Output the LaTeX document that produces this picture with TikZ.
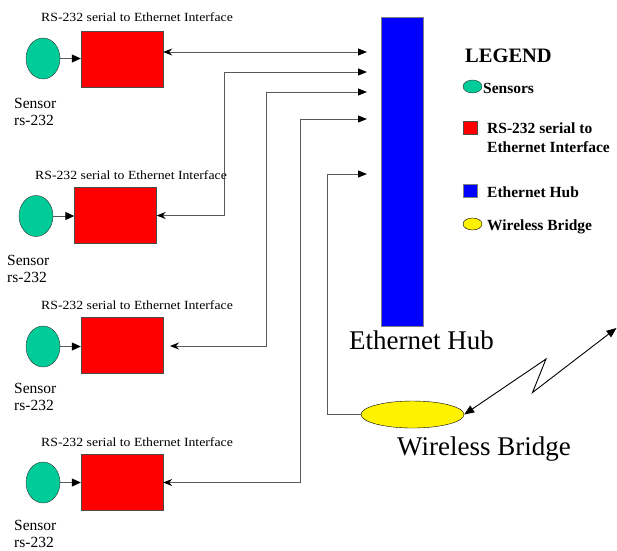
\documentclass[tikz,border=0pt]{standalone}
\usepackage{fontspec}
\setmainfont{Liberation Serif}
\usepackage{graphicx}
\usetikzlibrary{arrows.meta,shapes.geometric}
\definecolor{sensgreen}{HTML}{00CC99}
\begin{document}
\begin{tikzpicture}[x=1pt,y=-1pt,
  sensor/.style={ellipse,draw=black!80,fill=sensgreen,minimum width=34pt,minimum height=41pt,inner sep=0pt},
  ifbox/.style={rectangle,draw=black!70,fill=red,minimum width=82pt,minimum height=56pt,inner sep=0pt},
  hubbox/.style={rectangle,draw=black!50,fill=blue,minimum width=42pt,minimum height=309pt,inner sep=0pt},
  bridge/.style={ellipse,draw=black,fill=yellow,minimum width=103pt,minimum height=27pt,inner sep=0pt},
  link/.style={draw=black!65,line width=1pt},
  tohub/.style={-{Triangle[length=9pt,width=7pt,color=black]}},
  both/.style={{Stealth[length=9pt,width=7pt,inset=3pt,color=black]}-{Triangle[length=9pt,width=7pt,color=black]}},
  small/.style={inner sep=0pt,anchor=base west,font=\fontsize{12.5}{14}\selectfont},
  senslbl/.style={inner sep=0pt,anchor=base west,font=\fontsize{15.5}{18}\selectfont},
  big/.style={inner sep=0pt,anchor=base west,font=\fontsize{27}{32}\selectfont},
  leg/.style={inner sep=0pt,anchor=base west,font=\bfseries\fontsize{15.5}{18}\selectfont}
]
\useasboundingbox (0,0) rectangle (617,550);
% groups
\node[sensor] (s1) at (43,58.5) {};
\node[ifbox] (b1) at (122,59) {};
\node[sensor] (s2) at (36,216) {};
\node[ifbox] (b2) at (115.5,215.5) {};
\node[sensor] (s3) at (43,346.5) {};
\node[ifbox] (b3) at (122,345) {};
\node[sensor] (s4) at (43,482.5) {};
\node[ifbox] (b4) at (122,482.5) {};
\foreach \i in {1,...,4}{
  \draw[link,-{Triangle[length=9pt,width=8pt,color=black]}] (s\i.east) -- (s\i.east -| b\i.west);
}
% labels
\node[small] (t1) at (41,21) {\scalebox{1.1}[1]{RS-232 serial to Ethernet Interface}};
\node[small] (t2) at (35,179) {\scalebox{1.1}[1]{RS-232 serial to Ethernet Interface}};
\node[small] (t3) at (41,309) {\scalebox{1.1}[1]{RS-232 serial to Ethernet Interface}};
\node[small] (t4) at (41,446) {\scalebox{1.1}[1]{RS-232 serial to Ethernet Interface}};
\node[senslbl] (l1a) at (14,108) {Sensor};
\node[senslbl] (l1b) at (14,125) {rs-232};
\node[senslbl] (l2a) at (7,265) {Sensor};
\node[senslbl] (l2b) at (7,282) {rs-232};
\node[senslbl] (l3a) at (14,393) {Sensor};
\node[senslbl] (l3b) at (14,410) {rs-232};
\node[senslbl] (l4a) at (14,530) {Sensor};
\node[senslbl] (l4b) at (14,547) {rs-232};
% hub and bridge
\node[hubbox] (hub) at (402,171.5) {};
\node[bridge] (br) at (412.5,414.5) {};
\node[big] (hubl) at (349,349) {Ethernet Hub};
\node[big] (brl) at (397,455) {Wireless Bridge};
% hub side arrow tips
\coordinate (h1) at (367,52);
\coordinate (h2) at (367,72);
\coordinate (h3) at (367,92);
\coordinate (h4) at (367,119);
\coordinate (h5) at (367,174);
\coordinate (k2) at (224,72);
\coordinate (k3) at (266,92);
\coordinate (k4) at (300,119);
\coordinate (k5) at (327,174);
\coordinate (e3) at (170,346);
\draw[link,both] (b1.east |- h1) -- (h1);
\draw[link,both] (b2.east) -| (k2) -- (h2);
\draw[link,both] (e3) -| (k3) -- (h3);
\draw[link,both] (b4.east) -| (k4) -- (h4);
\draw[link,tohub] (br.west) -| (k5) -- (h5);
% wireless zigzag
\coordinate (z1) at (546,359);
\coordinate (z2) at (532.5,392.5);
\coordinate (z3) at (616.5,328);
\draw[black,line width=0.9pt,{Triangle[length=10pt,width=8pt]}-{Triangle[length=10pt,width=8pt]}] (br.east) -- (z1) -- (z2) -- (z3);
% legend
\node[inner sep=0pt,anchor=base west,font=\bfseries\fontsize{20.5}{24}\selectfont] (legt) at (465,62) {LEGEND};
\node[ellipse,draw=black!80,fill=sensgreen,minimum width=19pt,minimum height=13pt,inner sep=0pt] (lgs) at (472.5,86.5) {};
\node[leg] (lgst) at (483,93) {Sensors};
\node[rectangle,draw=black!70,fill=red,minimum width=14pt,minimum height=13pt,inner sep=0pt] (lgr) at (470,127.5) {};
\node[leg] (lgrt1) at (487,133) {RS-232 serial to};
\node[leg] (lgrt2) at (487,152) {Ethernet Interface};
\node[rectangle,draw=black!50,fill=blue,minimum width=14pt,minimum height=13pt,inner sep=0pt] (lgb) at (470,190.5) {};
\node[leg] (lgbt) at (487,197) {Ethernet Hub};
\node[ellipse,draw=black,fill=yellow,minimum width=19pt,minimum height=12pt,inner sep=0pt] (lgy) at (472.5,224) {};
\node[leg] (lgyt) at (487,230) {Wireless Bridge};
\end{tikzpicture}
\end{document}
